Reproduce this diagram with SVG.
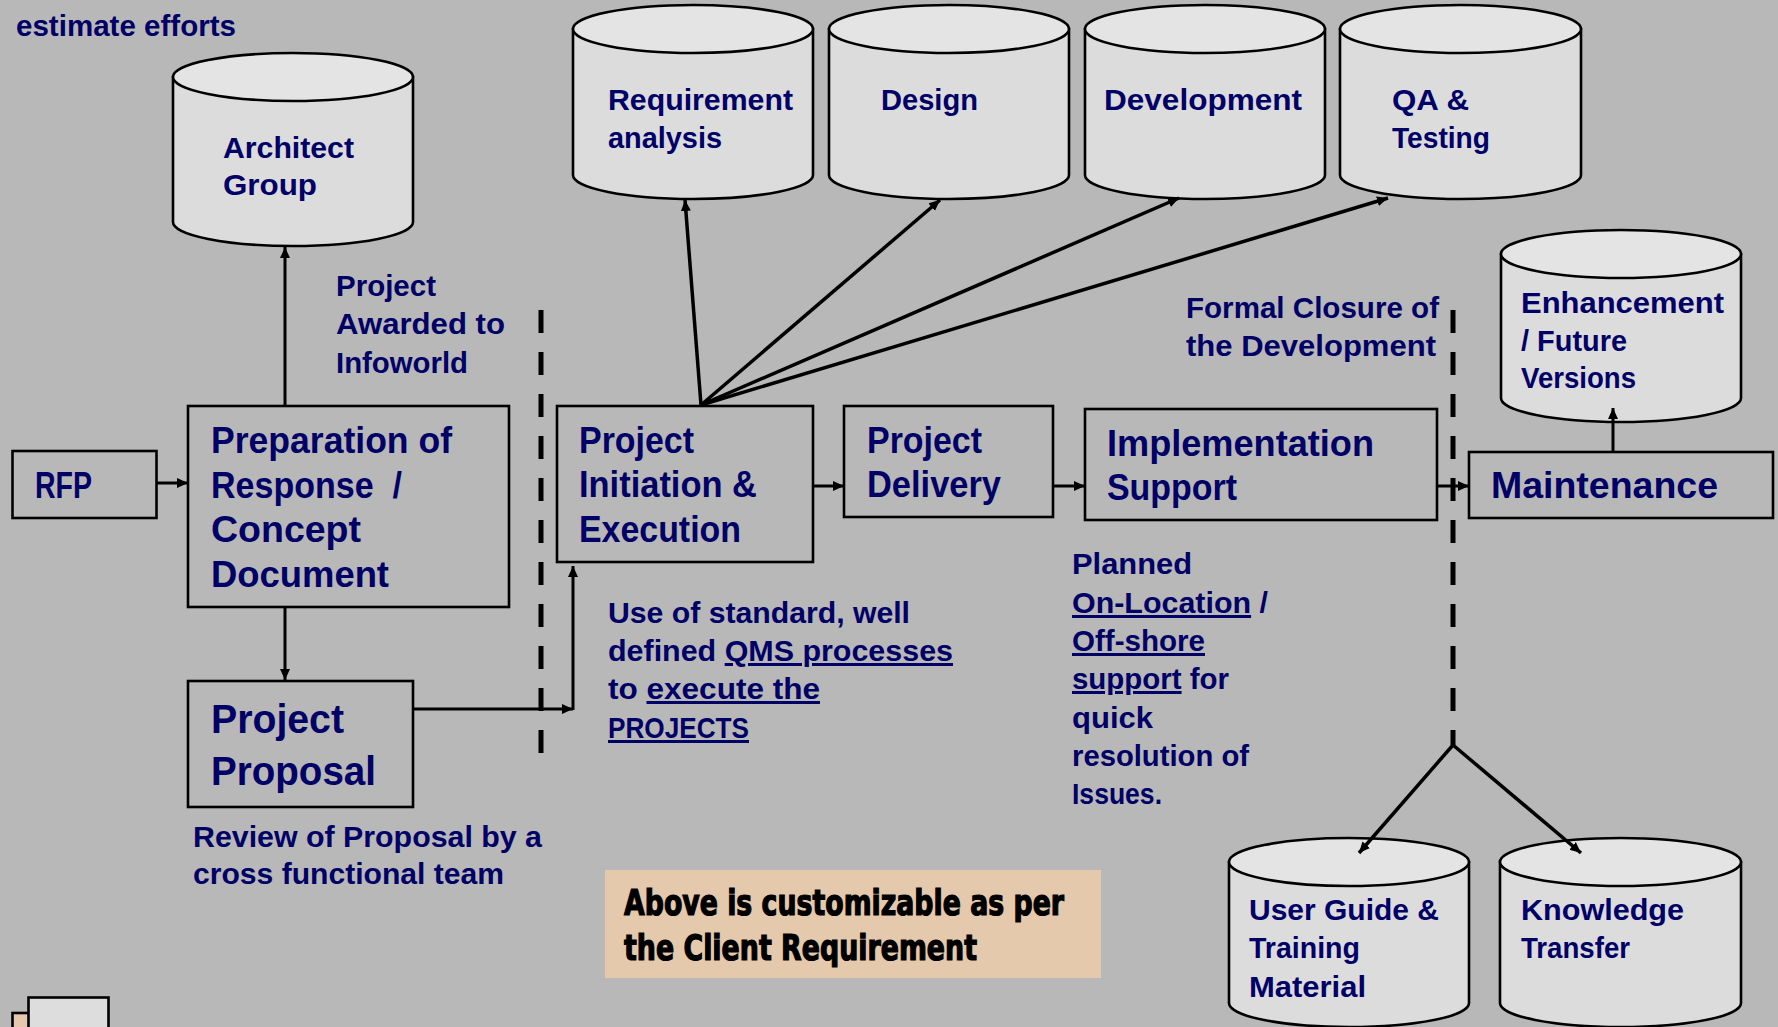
<svg xmlns="http://www.w3.org/2000/svg" width="1778" height="1027" viewBox="0 0 1778 1027">
<style>
.t{font-family:"Liberation Sans",Arial,sans-serif;font-weight:bold;fill:#000066;font-size:30px}
.b{font-size:37px}
.pp{font-size:41px}
.imp{font-family:"Liberation Sans Narrow","DejaVu Sans Condensed","Liberation Sans",sans-serif;font-weight:bold;font-size:36px;fill:#000;stroke:#000;stroke-width:1.2}
.box{fill:none;stroke:#000;stroke-width:2.6}
.cyl{fill:#DCDCDC;stroke:#000;stroke-width:2.6}
.cyltop{fill:#E4E4E4;stroke:#000;stroke-width:2.6}
.con{fill:none;stroke:#000;stroke-width:3}
.fan{fill:none;stroke:#000;stroke-width:3.5}
.dash{fill:none;stroke:#000;stroke-width:5;stroke-dasharray:23 19}
.u{text-decoration:underline}
</style>
<defs>
<marker id="ah" markerUnits="userSpaceOnUse" markerWidth="12" markerHeight="12" viewBox="0 0 12 12" refX="11" refY="6" orient="auto">
<path d="M0,1 L11,6 L0,11 Z" fill="#000"/>
</marker>
</defs>
<rect width="1778" height="1027" fill="#B8B8B8"/>

<text class="t" x="16" y="36" textLength="220" lengthAdjust="spacingAndGlyphs">estimate efforts</text>

<g id="architect-group">
<path class="cyl" d="M173,77 L173,222 A120,24 0 0,0 413,222 L413,77 Z"/>
<ellipse class="cyltop" cx="293" cy="77" rx="120" ry="24"/>
<text class="t" x="223" y="158" textLength="131" lengthAdjust="spacingAndGlyphs">Architect</text>
<text class="t" x="223" y="195" textLength="94" lengthAdjust="spacingAndGlyphs">Group</text>
</g>

<g id="requirement-analysis">
<path class="cyl" d="M573,29 L573,175 A120,24 0 0,0 813,175 L813,29 Z"/>
<ellipse class="cyltop" cx="693" cy="29" rx="120" ry="24"/>
<text class="t" x="608" y="110" textLength="185" lengthAdjust="spacingAndGlyphs">Requirement</text>
<text class="t" x="608" y="148" textLength="114" lengthAdjust="spacingAndGlyphs">analysis</text>
</g>

<g id="design">
<path class="cyl" d="M829,29 L829,175 A120,24 0 0,0 1069,175 L1069,29 Z"/>
<ellipse class="cyltop" cx="949" cy="29" rx="120" ry="24"/>
<text class="t" x="881" y="110" textLength="97" lengthAdjust="spacingAndGlyphs">Design</text>
</g>

<g id="development">
<path class="cyl" d="M1085,29 L1085,175 A120,24 0 0,0 1325,175 L1325,29 Z"/>
<ellipse class="cyltop" cx="1205" cy="29" rx="120" ry="24"/>
<text class="t" x="1104" y="110" textLength="198" lengthAdjust="spacingAndGlyphs">Development</text>
</g>

<g id="qa-testing">
<path class="cyl" d="M1340,29 L1340,175 A120.5,24 0 0,0 1581,175 L1581,29 Z"/>
<ellipse class="cyltop" cx="1460.5" cy="29" rx="120.5" ry="24"/>
<text class="t" x="1392" y="110" textLength="77" lengthAdjust="spacingAndGlyphs">QA &amp;</text>
<text class="t" x="1392" y="148" textLength="98" lengthAdjust="spacingAndGlyphs">Testing</text>
</g>

<g id="enhancement">
<path class="cyl" d="M1501,254 L1501,398 A120,24 0 0,0 1741,398 L1741,254 Z"/>
<ellipse class="cyltop" cx="1621" cy="254" rx="120" ry="24"/>
<text class="t" x="1521" y="313" textLength="203" lengthAdjust="spacingAndGlyphs">Enhancement</text>
<text class="t" x="1521" y="351" textLength="106" lengthAdjust="spacingAndGlyphs">/ Future</text>
<text class="t" x="1521" y="388" textLength="115" lengthAdjust="spacingAndGlyphs">Versions</text>
</g>

<g id="user-guide">
<path class="cyl" d="M1229,862 L1229,1003 A120,24 0 0,0 1469,1003 L1469,862 Z"/>
<ellipse class="cyltop" cx="1349" cy="862" rx="120" ry="24"/>
<text class="t" x="1249" y="920" textLength="190" lengthAdjust="spacingAndGlyphs">User Guide &amp;</text>
<text class="t" x="1249" y="958" textLength="111" lengthAdjust="spacingAndGlyphs">Training</text>
<text class="t" x="1249" y="997" textLength="117" lengthAdjust="spacingAndGlyphs">Material</text>
</g>

<g id="knowledge-transfer">
<path class="cyl" d="M1500,862 L1500,1003 A120.5,24 0 0,0 1741,1003 L1741,862 Z"/>
<ellipse class="cyltop" cx="1620.5" cy="862" rx="120.5" ry="24"/>
<text class="t" x="1521" y="920" textLength="163" lengthAdjust="spacingAndGlyphs">Knowledge</text>
<text class="t" x="1521" y="958" textLength="109" lengthAdjust="spacingAndGlyphs">Transfer</text>
</g>

<g id="rfp">
<rect class="box" x="12.5" y="451" width="144" height="67"/>
<text class="t b" x="35" y="498" textLength="57" lengthAdjust="spacingAndGlyphs">RFP</text>
</g>

<g id="preparation">
<rect class="box" x="188" y="406" width="321" height="201"/>
<text class="t b" x="211" y="453" textLength="241" lengthAdjust="spacingAndGlyphs">Preparation of</text>
<text class="t b" x="211" y="498" textLength="191" lengthAdjust="spacingAndGlyphs" xml:space="preserve">Response  /</text>
<text class="t b" x="211" y="542" textLength="150" lengthAdjust="spacingAndGlyphs">Concept</text>
<text class="t b" x="211" y="587" textLength="178" lengthAdjust="spacingAndGlyphs">Document</text>
</g>

<g id="project-proposal">
<rect class="box" x="188" y="681" width="225" height="126"/>
<text class="t pp" x="211" y="733" textLength="133" lengthAdjust="spacingAndGlyphs">Project</text>
<text class="t pp" x="211" y="785" textLength="165" lengthAdjust="spacingAndGlyphs">Proposal</text>
</g>

<g id="initiation">
<rect class="box" x="557" y="406" width="256" height="156"/>
<text class="t b" x="579" y="453" textLength="115" lengthAdjust="spacingAndGlyphs">Project</text>
<text class="t b" x="579" y="497" textLength="178" lengthAdjust="spacingAndGlyphs">Initiation &amp;</text>
<text class="t b" x="579" y="542" textLength="162" lengthAdjust="spacingAndGlyphs">Execution</text>
</g>

<g id="delivery">
<rect class="box" x="844" y="406" width="209" height="111"/>
<text class="t b" x="867" y="453" textLength="115" lengthAdjust="spacingAndGlyphs">Project</text>
<text class="t b" x="867" y="497" textLength="134" lengthAdjust="spacingAndGlyphs">Delivery</text>
</g>

<g id="implementation">
<rect class="box" x="1085" y="409" width="352" height="111"/>
<text class="t b" x="1107" y="456" textLength="267" lengthAdjust="spacingAndGlyphs">Implementation</text>
<text class="t b" x="1107" y="500" textLength="130" lengthAdjust="spacingAndGlyphs">Support</text>
</g>

<g id="maintenance">
<rect class="box" x="1469" y="452" width="304" height="66"/>
<text class="t b" x="1491" y="498" textLength="227" lengthAdjust="spacingAndGlyphs">Maintenance</text>
</g>

<g id="labels">
<text class="t" x="336" y="296" textLength="100" lengthAdjust="spacingAndGlyphs">Project</text>
<text class="t" x="336" y="334" textLength="169" lengthAdjust="spacingAndGlyphs">Awarded to</text>
<text class="t" x="336" y="373" textLength="132" lengthAdjust="spacingAndGlyphs">Infoworld</text>

<text class="t" x="1186" y="318" textLength="253" lengthAdjust="spacingAndGlyphs">Formal Closure of</text>
<text class="t" x="1186" y="356" textLength="250" lengthAdjust="spacingAndGlyphs">the Development</text>

<text class="t" x="608" y="623" textLength="302" lengthAdjust="spacingAndGlyphs">Use of standard, well</text>
<text class="t" x="608" y="661" textLength="345" lengthAdjust="spacingAndGlyphs">defined <tspan class="u">QMS processes</tspan></text>
<text class="t" x="608" y="699" textLength="212" lengthAdjust="spacingAndGlyphs">to <tspan class="u">execute the</tspan></text>
<text class="t" x="608" y="738" textLength="141" lengthAdjust="spacingAndGlyphs"><tspan class="u">PROJECTS</tspan></text>

<text class="t" x="1072" y="574" textLength="120" lengthAdjust="spacingAndGlyphs">Planned</text>
<text class="t" x="1072" y="613" textLength="196" lengthAdjust="spacingAndGlyphs"><tspan class="u">On-Location</tspan> /</text>
<text class="t" x="1072" y="651" textLength="133" lengthAdjust="spacingAndGlyphs"><tspan class="u">Off-shore</tspan></text>
<text class="t" x="1072" y="689" textLength="157" lengthAdjust="spacingAndGlyphs"><tspan class="u">support</tspan> for</text>
<text class="t" x="1072" y="728" textLength="81" lengthAdjust="spacingAndGlyphs">quick</text>
<text class="t" x="1072" y="766" textLength="177" lengthAdjust="spacingAndGlyphs">resolution of</text>
<text class="t" x="1072" y="804" textLength="90" lengthAdjust="spacingAndGlyphs">Issues.</text>

<text class="t" x="193" y="847" textLength="349" lengthAdjust="spacingAndGlyphs">Review of Proposal by a</text>
<text class="t" x="193" y="884" textLength="311" lengthAdjust="spacingAndGlyphs">cross functional team</text>
</g>

<g id="note">
<rect x="605" y="870" width="496" height="108" fill="#E5C9AC"/>
<text class="imp" x="624" y="915" textLength="440" lengthAdjust="spacingAndGlyphs">Above is customizable as per</text>
<text class="imp" x="624" y="960" textLength="353" lengthAdjust="spacingAndGlyphs">the Client Requirement</text>
</g>

<g id="corner-icon">
<rect x="12.5" y="1013" width="30" height="30" fill="#E5C9AC" stroke="#000" stroke-width="2.6"/>
<rect x="28.5" y="997.5" width="80" height="40" fill="#DDDDDD" stroke="#000" stroke-width="2.6"/>
</g>

<g id="connectors">
<line class="dash" x1="541" y1="310" x2="541" y2="753"/>
<line class="dash" x1="1453" y1="310" x2="1453" y2="745"/>
<line class="con" x1="157" y1="483" x2="188" y2="483" marker-end="url(#ah)"/>
<line class="con" x1="285" y1="406" x2="285" y2="247" marker-end="url(#ah)"/>
<line class="con" x1="285" y1="607" x2="285" y2="680" marker-end="url(#ah)"/>
<line class="con" x1="413" y1="709" x2="573" y2="709" marker-end="url(#ah)"/>
<line class="con" x1="573" y1="710" x2="573" y2="566" marker-end="url(#ah)"/>
<line class="con" x1="813" y1="486" x2="844" y2="486" marker-end="url(#ah)"/>
<line class="con" x1="1053" y1="486" x2="1085" y2="486" marker-end="url(#ah)"/>
<line class="con" x1="1437" y1="486" x2="1469" y2="486" marker-end="url(#ah)"/>
<line class="con" x1="1613" y1="452" x2="1613" y2="408" marker-end="url(#ah)"/>
<line class="fan" x1="701" y1="405" x2="685" y2="200" marker-end="url(#ah)"/>
<line class="fan" x1="701" y1="405" x2="940" y2="200" marker-end="url(#ah)"/>
<line class="fan" x1="701" y1="405" x2="1179" y2="198" marker-end="url(#ah)"/>
<line class="fan" x1="701" y1="405" x2="1388" y2="198" marker-end="url(#ah)"/>
<line class="fan" x1="1453" y1="745" x2="1359" y2="853" marker-end="url(#ah)"/>
<line class="fan" x1="1453" y1="745" x2="1581" y2="853" marker-end="url(#ah)"/>
</g>
</svg>
